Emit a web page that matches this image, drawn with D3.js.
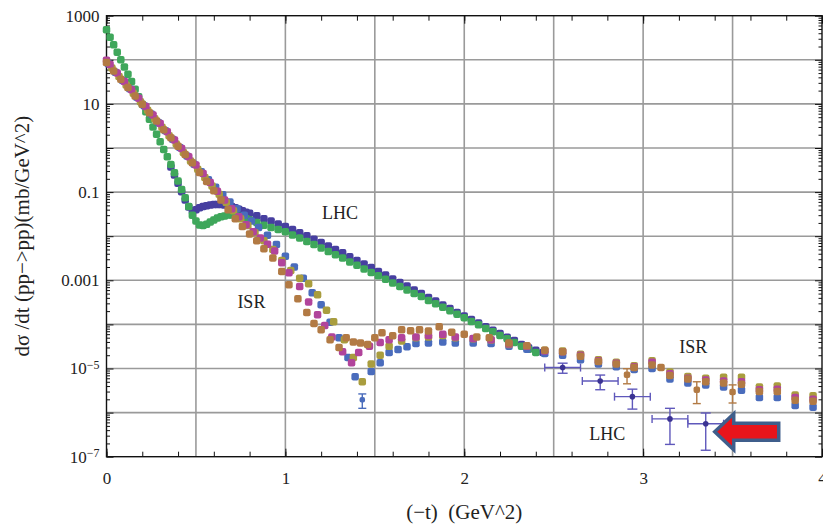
<!DOCTYPE html>
<html>
<head>
<meta charset="utf-8">
<script src="https://cdn.jsdelivr.net/npm/d3@7"></script>
<style>
  body { margin: 0; background: #fff; }
  svg text { font-family: "Liberation Serif", "Times New Roman", serif; fill: #222; }
</style>
</head>
<body>
<div id="chart"></div>
<script>
// LHC (green, dense low-|t| data)
const greenT = [0.00,0.02,0.04,0.06,0.08,0.10,0.12,0.14,0.16,0.18,0.20,0.22,0.24,0.26,0.28,0.30,0.32,0.34,0.36,0.38,
  0.40,0.42,0.44,0.46,0.48,0.50,0.52,0.54,0.56,0.58,0.60,0.62,0.64,0.66,0.68,0.70,0.72,0.74,0.76,0.78,0.80,
  0.84,0.88,0.92,0.96,1.00,1.04,1.08,1.12,1.16,1.20,1.24,1.28,1.32,1.36,1.40,1.44,1.48,1.52,1.56,1.60,
  1.64,1.68,1.72,1.76,1.80,1.84,1.88,1.92,1.96,2.00,2.04,2.08,2.12,2.16,2.20,2.24,2.28,2.32,2.36,2.40];
const greenV = [480,324,219,148,100,69,47,32,21.4,14.5,9.8,6.6,4.5,3.0,2.04,1.38,0.93,0.63,0.42,0.275,
  0.178,0.115,0.074,0.047,0.030,0.022,0.018,0.0174,0.0186,0.0209,0.0234,0.0257,0.0275,0.0288,0.0302,0.0302,0.0295,0.0282,0.0269,0.0251,0.0234,
  0.0204,0.0178,0.0158,0.0141,0.0126,0.0107,9.1e-3,7.6e-3,6.5e-3,5.4e-3,4.5e-3,3.8e-3,3.2e-3,2.6e-3,2.2e-3,1.8e-3,1.5e-3,1.26e-3,1.05e-3,8.7e-4,
  7.2e-4,6.0e-4,5.0e-4,4.3e-4,3.5e-4,2.95e-4,2.45e-4,2.04e-4,1.7e-4,1.41e-4,1.17e-4,9.8e-5,8.1e-5,6.8e-5,5.6e-5,4.7e-5,3.9e-5,3.2e-5,2.75e-5,2.3e-5];

// LHC (dark blue)
const lhcT = [0.36,0.38,0.40,0.42,0.44,0.46,0.48,0.50,0.52,0.54,0.56,0.58,0.60,0.62,0.64,0.66,0.68,0.70,0.72,0.74,0.76,0.78,0.80,
  0.84,0.88,0.92,0.96,1.00,1.04,1.08,1.12,1.16,1.20,1.24,1.28,1.32,1.36,1.40,1.44,1.48,1.52,1.56,1.60,
  1.64,1.68,1.72,1.76,1.80,1.84,1.88,1.92,1.96,2.00,2.04,2.08,2.12,2.16,2.20,2.24,2.28,2.32,2.36,2.40,2.44];
const lhcV = [0.37,0.245,0.158,0.102,0.066,0.046,0.038,0.040,0.044,0.047,0.049,0.051,0.052,0.052,0.052,0.051,0.049,0.047,0.044,0.041,0.038,0.035,0.033,
  0.029,0.025,0.022,0.019,0.0166,0.0141,0.0120,0.0102,8.5e-3,7.2e-3,6.0e-3,5.0e-3,4.2e-3,3.4e-3,2.8e-3,2.35e-3,1.95e-3,1.58e-3,1.32e-3,1.07e-3,
  8.9e-4,7.4e-4,6.0e-4,5.0e-4,4.1e-4,3.4e-4,2.75e-4,2.3e-4,1.86e-4,1.55e-4,1.29e-4,1.07e-4,8.9e-5,7.4e-5,6.2e-5,5.1e-5,4.3e-5,3.5e-5,2.95e-5,2.6e-5,2.3e-5];

// LHC large-|t| points with error bars
const lhcTailT = [2.55, 2.76, 2.94, 3.15, 3.35];
const lhcTailV = [1.05e-5, 5.2e-6, 2.3e-6, 7.2e-7, 5.6e-7];
const lhcTailErrY = [2.7e-6, 1.9e-6, 1.1e-6, 5.3e-7, 4.2e-7];
const lhcTailErrX = [0.1, 0.1, 0.1, 0.1, 0.1];

// ISR series
const blueT = [0.01,0.05,0.09,0.13,0.17,0.21,0.25,0.29,0.33,0.37,0.41,0.45,0.49,0.53,0.57,0.61,0.65,0.69,0.73,0.77,0.81,0.85,
  0.90,0.95,1.00,1.05,1.10,1.15,1.20,1.25,1.30,1.35,1.39,1.48,1.53,1.58,1.63,1.68,1.73,1.80,1.88,1.95,
  2.05,2.15,2.25,2.35,2.45,2.55,2.65,2.75,2.85,2.95,3.05,3.15,3.25,3.35,3.45,3.55,3.65,3.75,3.85,3.95];
const blueV = [81,52,34,22,14.1,9.1,5.9,3.8,2.45,1.58,1.02,0.66,0.43,0.29,0.19,0.129,0.087,0.060,0.042,0.030,0.022,0.0158,
  0.0105,6.5e-3,3.5e-3,2.0e-3,1.12e-3,5.2e-4,2.8e-4,1.12e-4,5.0e-5,1.78e-5,6.5e-6,8.5e-6,1.35e-5,2.3e-5,2.7e-5,3.1e-5,3.7e-5,3.8e-5,4.0e-5,3.8e-5,
  3.8e-5,3.7e-5,3.2e-5,2.75e-5,2.2e-5,2.0e-5,1.58e-5,1.26e-5,1.10e-5,9.5e-6,1.0e-5,5.8e-6,4.7e-6,4.2e-6,3.8e-6,3.2e-6,2.2e-6,2.2e-6,1.45e-6,1.32e-6];
const blueErrT = [1.43];
const blueErrV = [1.95e-6];
const blueErrE = [0.7e-6];

const oliveT = [0.03,0.07,0.11,0.15,0.19,0.23,0.27,0.31,0.35,0.39,0.43,0.47,0.51,0.55,0.59,0.63,0.67,0.71,0.75,0.79,0.83,
  0.88,0.93,0.98,1.03,1.08,1.13,1.18,1.23,1.27,1.33,1.38,1.43,1.48,1.53,1.58,1.65,1.73,1.80,1.88,1.95,
  2.05,2.15,2.25,2.35,2.45,2.55,2.65,2.75,2.85,2.95,3.05,3.15,3.25,3.35,3.45,3.55,3.65,3.75,3.85,3.95];
const oliveV = [65,42,27,17.4,11.2,7.2,4.6,2.95,1.9,1.23,0.79,0.51,0.33,0.214,0.138,0.089,0.058,0.038,0.025,0.0174,0.0120,
  7.9e-3,5.0e-3,2.8e-3,1.66e-3,1.12e-3,8.3e-4,4.7e-4,2.1e-4,1.15e-4,4.5e-5,1.78e-5,5.0e-6,1.26e-5,2.0e-5,3.2e-5,4.2e-5,5.0e-5,5.2e-5,5.6e-5,5.0e-5,
  4.7e-5,4.4e-5,3.5e-5,3.2e-5,2.6e-5,2.5e-5,2.1e-5,1.58e-5,1.38e-5,1.15e-5,1.5e-5,8.3e-6,6.6e-6,6.0e-6,6.3e-6,6.3e-6,3.8e-6,4.0e-6,2.5e-6,2.4e-6];

const magentaT = [0.00,0.02,0.06,0.10,0.14,0.18,0.22,0.26,0.30,0.34,0.38,0.42,0.46,0.50,0.54,0.58,0.62,0.66,0.70,0.74,0.78,0.82,0.86,0.90,0.94,0.98,
  1.02,1.08,1.13,1.18,1.22,1.26,1.32,1.37,1.41,1.47,1.53,1.58,1.65,1.73,1.80,1.88,1.95,
  2.05,2.15,2.25,2.35,2.45,2.55,2.65,2.75,2.85,2.95,3.05,3.15,3.25,3.35,3.45,3.55,3.65,3.75,3.85,3.95];
const magentaV = [98,78,50,32,21,13.5,8.7,5.6,3.6,2.34,1.51,0.98,0.63,0.41,0.263,0.166,0.105,0.066,0.042,0.0275,0.0182,0.0126,9.1e-3,6.6e-3,4.6e-3,2.5e-3,
  1.48e-3,7.2e-4,3.2e-4,1.66e-4,9.5e-5,5.2e-5,2.4e-5,1.35e-5,2.3e-5,3.2e-5,3.9e-5,4.5e-5,5.0e-5,5.2e-5,5.6e-5,6.0e-5,5.2e-5,
  4.8e-5,4.5e-5,3.6e-5,3.2e-5,2.5e-5,2.4e-5,2.0e-5,1.5e-5,1.32e-5,1.10e-5,1.38e-5,7.6e-6,6.0e-6,5.5e-6,5.2e-6,5.0e-6,3.3e-6,3.4e-6,2.2e-6,2.0e-6];

const brownT = [0.00,0.04,0.08,0.12,0.16,0.20,0.24,0.28,0.32,0.36,0.40,0.44,0.48,0.52,0.56,0.60,0.64,0.68,0.72,0.76,0.80,0.84,0.88,
  0.93,0.98,1.02,1.07,1.12,1.16,1.20,1.25,1.30,1.34,1.38,1.42,1.46,1.50,1.54,1.60,1.65,1.70,1.75,1.80,1.86,1.93,2.00,2.07,2.14,
  2.25,2.35,2.45,2.55,2.65,2.75,2.85,2.95,3.05,3.10,3.15,3.25,3.35,3.45,3.55,3.65,3.75,3.85,3.95];
const brownV = [87,56,36,23.4,15.1,9.8,6.3,4.1,2.6,1.7,1.10,0.71,0.46,0.28,0.174,0.107,0.066,0.040,0.025,0.0166,0.0112,7.9e-3,5.2e-3,
  3.2e-3,1.58e-3,7.9e-4,3.8e-4,1.86e-4,1.05e-4,7.6e-5,4.5e-5,3.0e-5,5.0e-5,4.0e-5,3.8e-5,3.5e-5,5.0e-5,6.5e-5,5.5e-5,7.6e-5,7.2e-5,7.6e-5,7.1e-5,8.9e-5,6.6e-5,6.0e-5,5.2e-5,5.0e-5,
  3.8e-5,3.3e-5,2.6e-5,2.4e-5,1.9e-5,1.45e-5,1.26e-5,1.05e-5,1.20e-5,1.05e-5,6.9e-6,5.8e-6,5.0e-6,4.7e-6,4.4e-6,3.0e-6,3.0e-6,1.9e-6,1.8e-6];
const brownErrT = [2.91, 3.30, 3.50];
const brownErrV = [7.2e-6, 3.3e-6, 2.95e-6];
const brownErrE = [2.7e-6, 1.7e-6, 1.3e-6];

// axis ticks and labels
const xTicks = [0, 1, 2, 3, 4];
const xGrid = [0.5, 1, 1.5, 2, 2.5, 3, 3.5];
const yTicks = [1e3, 10, 0.1, 1e-3, 1e-5, 1e-7];
const yTickText = ["1000", "10", "0.1", "0.001", "10|−5", "10|−7"];

const notes = [
  {text: "LHC", t: 1.305, v: 0.0245},
  {text: "ISR", t: 0.81, v: 2.3e-4},
  {text: "ISR", t: 3.28, v: 2.3e-5},
  {text: "LHC", t: 2.80, v: 2.4e-7}
];

const colors = {
  lhc: "#473fa0", green: "#3fa75b", blue: "#4a6cbc",
  olive: "#a99d3e", magenta: "#b1449b", brown: "#b27a44"
};

const width = 823, height = 530;
const plot = {left: 106.5, right: 822, top: 15.7, bottom: 456.7};
const markSize = 7.5;

const svg = d3.select("#chart").append("svg")
    .attr("width", width)
    .attr("height", height);

const x = d3.scaleLinear().domain([0, 4]).range([plot.left, plot.right]);
const y = d3.scaleLog().domain([1e-7, 1e3]).range([plot.bottom, plot.top]);

// grid
const decades = d3.range(-6, 3).map(e => Math.pow(10, e));
svg.append("g").selectAll("line").data(xGrid).join("line")
    .attr("x1", d => x(d)).attr("x2", d => x(d))
    .attr("y1", plot.top).attr("y2", plot.bottom)
    .attr("stroke", "#9a9a9a").attr("stroke-width", 1.6);
svg.append("g").selectAll("line").data(decades).join("line")
    .attr("x1", plot.left).attr("x2", plot.right)
    .attr("y1", d => y(d)).attr("y2", d => y(d))
    .attr("stroke", "#9a9a9a").attr("stroke-width", 1.6);

// ticks (inward on all four sides)
const xMinor = d3.range(0, 4.001, 0.2);
const yMinor = [];
for (let e = -7; e < 3; e++) for (let k = 2; k < 10; k++) yMinor.push(k * Math.pow(10, e));
const yMajor = d3.range(-7, 4).map(e => Math.pow(10, e));

function tickAxis(axis, transform, values, size) {
  const g = svg.append("g").attr("transform", transform)
      .call(axis.tickValues(values).tickSize(size).tickFormat(""));
  g.select(".domain").remove();
  g.selectAll("line").attr("stroke", "#111");
}
tickAxis(d3.axisTop(x), `translate(0,${plot.bottom})`, xMinor, 5);
tickAxis(d3.axisTop(x), `translate(0,${plot.bottom})`, xTicks, 8);
tickAxis(d3.axisBottom(x), `translate(0,${plot.top})`, xMinor, 5);
tickAxis(d3.axisBottom(x), `translate(0,${plot.top})`, xTicks, 8);
tickAxis(d3.axisRight(y), `translate(${plot.left},0)`, yMinor, 3.5);
tickAxis(d3.axisRight(y), `translate(${plot.left},0)`, yMajor, 7);
tickAxis(d3.axisLeft(y), `translate(${plot.right},0)`, yMinor, 3.5);
tickAxis(d3.axisLeft(y), `translate(${plot.right},0)`, yMajor, 7);

// frame
svg.append("rect")
    .attr("x", plot.left).attr("y", plot.top)
    .attr("width", plot.right - plot.left).attr("height", plot.bottom - plot.top)
    .attr("fill", "none").attr("stroke", "#111").attr("stroke-width", 1.4);

// tick labels
const xLab = svg.append("g").attr("transform", `translate(0,${plot.bottom})`)
    .call(d3.axisBottom(x).tickValues(xTicks).tickSize(0).tickPadding(15).tickFormat(d3.format("d")));
xLab.select(".domain").remove();
xLab.selectAll("text").attr("font-size", 17).attr("font-family", null).attr("fill", "#222");

const yLab = svg.append("g").attr("transform", `translate(${plot.left},0)`)
    .call(d3.axisLeft(y).tickValues(yTicks).tickSize(0).tickPadding(7).tickFormat(""));
yLab.select(".domain").remove();
yLab.selectAll("text").each(function(d, i) {
  const parts = yTickText[i].split("|");
  const t = d3.select(this).attr("font-size", 17).attr("font-family", null).attr("fill", "#222").text(parts[0]);
  if (parts[1]) t.append("tspan").attr("dy", "-0.45em").attr("font-size", 12).text(parts[1]);
});

// axis titles
svg.append("text")
    .attr("x", (plot.left + plot.right) / 2).attr("y", 519)
    .attr("text-anchor", "middle").attr("font-size", 21)
    .style("white-space", "pre")
    .text("(−t)  (GeV^2)");
svg.append("text")
    .attr("transform", `translate(28.5,${(plot.top + plot.bottom) / 2}) rotate(-90)`)
    .attr("text-anchor", "middle").attr("font-size", 21)
    .text("dσ /dt (pp−>pp)(mb/GeV^2)");

// markers
function drawSeries(ts, vs, color, size) {
  svg.append("g").selectAll("rect").data(d3.zip(ts, vs)).join("rect")
      .attr("x", d => x(d[0]) - size / 2).attr("y", d => y(d[1]) - size / 2)
      .attr("width", size).attr("height", size).attr("rx", 2)
      .attr("fill", color);
}

function drawErrorY(ts, vs, es, color, cap) {
  const g = svg.append("g").attr("stroke", color).attr("stroke-width", 1.4);
  d3.zip(ts, vs, es).forEach(([t, v, e]) => {
    const lo = y(Math.max(v - e, 1e-8)), hi = y(v + e);
    g.append("line").attr("x1", x(t)).attr("x2", x(t)).attr("y1", lo).attr("y2", hi);
    g.append("line").attr("x1", x(t) - cap).attr("x2", x(t) + cap).attr("y1", lo).attr("y2", lo);
    g.append("line").attr("x1", x(t) - cap).attr("x2", x(t) + cap).attr("y1", hi).attr("y2", hi);
  });
}

drawSeries(lhcT, lhcV, colors.lhc, markSize);
drawSeries(greenT, greenV, colors.green, markSize);

// LHC tail with x and y error bars
const tailG = svg.append("g").attr("stroke", "#5f58bb").attr("stroke-width", 1.4);
d3.zip(lhcTailT, lhcTailV, lhcTailErrY, lhcTailErrX).forEach(([t, v, ey, ex]) => {
  const cx = x(t), cy = y(v), lo = y(v - ey), hi = y(v + ey);
  const l = x(t - ex), r = x(t + ex);
  tailG.append("line").attr("x1", cx).attr("x2", cx).attr("y1", lo).attr("y2", hi);
  tailG.append("line").attr("x1", cx - 5).attr("x2", cx + 5).attr("y1", lo).attr("y2", lo);
  tailG.append("line").attr("x1", cx - 5).attr("x2", cx + 5).attr("y1", hi).attr("y2", hi);
  tailG.append("line").attr("x1", l).attr("x2", r).attr("y1", cy).attr("y2", cy);
  tailG.append("line").attr("x1", l).attr("x2", l).attr("y1", cy - 4).attr("y2", cy + 4);
  tailG.append("line").attr("x1", r).attr("x2", r).attr("y1", cy - 4).attr("y2", cy + 4);
});
svg.append("g").selectAll("circle").data(d3.zip(lhcTailT, lhcTailV)).join("circle")
    .attr("cx", d => x(d[0])).attr("cy", d => y(d[1])).attr("r", 2.8)
    .attr("fill", "#3b3393");

drawSeries(blueT, blueV, colors.blue, markSize);
drawErrorY(blueErrT, blueErrV, blueErrE, colors.blue, 4);
drawSeries(blueErrT, blueErrV, colors.blue, 5.5);
drawSeries(oliveT, oliveV, colors.olive, markSize);
drawSeries(magentaT, magentaV, colors.magenta, markSize);
drawSeries(brownT, brownV, colors.brown, markSize);
drawErrorY(brownErrT, brownErrV, brownErrE, colors.brown, 4);
drawSeries(brownErrT, brownErrV, colors.brown, 6.5);

// text notes
svg.append("g").selectAll("text").data(notes).join("text")
    .attr("x", d => x(d.t)).attr("y", d => y(d.v))
    .attr("text-anchor", "middle").attr("font-size", 18)
    .text(d => d.text);

// red arrow pointing at the last LHC point
const ax = x(lhcTailT[4]) + 9, ay = y(lhcTailV[4]) + 8;
const arrow = [[0, 0], [19, -18], [19, -8.5], [64, -8.5], [64, 8.5], [19, 8.5], [19, 18]];
svg.append("polygon")
    .attr("points", arrow.map(p => [ax + p[0], ay + p[1]].join(",")).join(" "))
    .attr("fill", "#e8141b").attr("stroke", "#3f5e8b").attr("stroke-width", 3.5)
    .attr("stroke-linejoin", "miter");
</script>
</body>
</html>
